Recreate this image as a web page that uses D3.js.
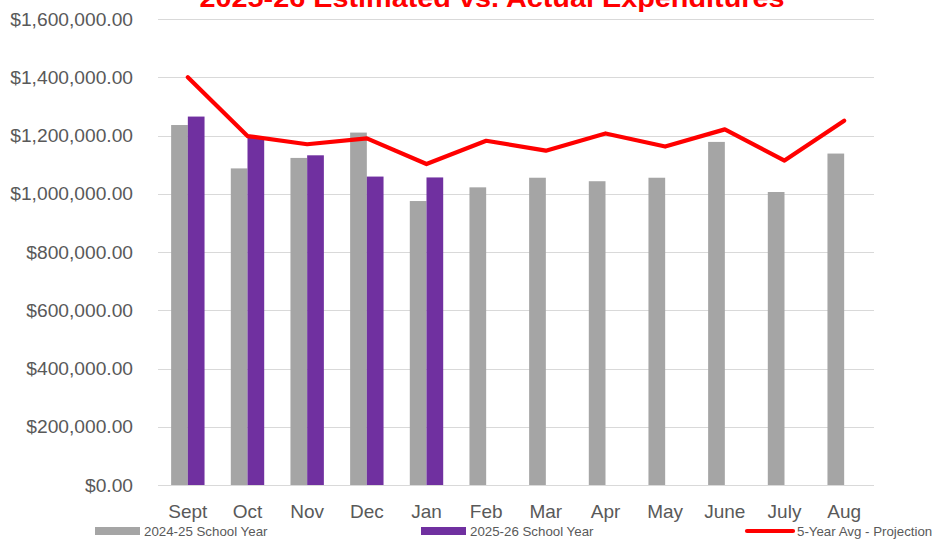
<!DOCTYPE html>
<html><head><meta charset="utf-8">
<script src="https://cdn.jsdelivr.net/npm/d3@7"></script>
<style>body{margin:0;background:#fff}svg{display:block}</style>
</head><body>
<svg id="c" width="939" height="539"></svg>
<script>
const months = ["Sept","Oct","Nov","Dec","Jan","Feb","Mar","Apr","May","June","July","Aug"];
const prevYear = [1236000,1087000,1123000,1210000,975000,1022000,1055000,1043000,1055000,1178000,1006000,1138000];
const currYear = [1265000,1195000,1132000,1059000,1056000,null,null,null,null,null,null,null];
const avgProjection = [1400000,1198000,1170000,1190000,1102000,1182000,1148000,1207000,1162000,1221000,1114000,1251000];
const yTicks = [0,200000,400000,600000,800000,1000000,1200000,1400000,1600000];
const seriesNames = ["2024-25 School Year","2025-26 School Year","5-Year Avg - Projection"];
const title = "2025-26 Estimated vs. Actual Expenditures";

(function(){
const svg = d3.select("#c");
const pL = 158, pR = 874, pT = 19, pB = 485;
const xc = d3.scaleBand().domain(months).range([pL, pR]);
const y = d3.scaleLinear().domain([0,1600000]).range([pB, pT]);
const bw = 16.7;
const fmt = v => "$" + d3.format(",.2f")(v);
const FF = "Liberation Sans, Arial, sans-serif";

// gridlines
svg.append("g").selectAll("line").data(yTicks).join("line")
  .attr("x1", pL).attr("x2", pR)
  .attr("y1", d => Math.round(y(d)) + 0.5).attr("y2", d => Math.round(y(d)) + 0.5)
  .attr("stroke", "#D9D9D9").attr("stroke-width", 1);

// y axis labels
const yAxis = d3.axisLeft(y).tickValues(yTicks).tickFormat(fmt).tickSize(0).tickPadding(0);
const ya = svg.append("g").attr("transform", `translate(133,0)`).call(yAxis);
ya.select(".domain").remove();
ya.selectAll("text").attr("font-family", FF)
  .attr("font-size", 19.2).attr("fill", "#595959");

// bars
const gx = i => xc(months[i]) + (xc.bandwidth() - 2*bw)/2;
svg.append("g").selectAll("rect").data(prevYear).join("rect")
  .attr("x", (d,i) => gx(i)).attr("width", bw)
  .attr("y", d => y(d)).attr("height", d => y(0) - y(d))
  .attr("fill", "#A5A5A5");
svg.append("g").selectAll("rect").data(currYear.map((v,i)=>({v,i})).filter(d => d.v != null)).join("rect")
  .attr("x", d => gx(d.i) + bw).attr("width", bw)
  .attr("y", d => y(d.v)).attr("height", d => y(0) - y(d.v))
  .attr("fill", "#7030A0");

// line
const line = d3.line().x((d,i) => xc(months[i]) + xc.bandwidth()/2).y(d => y(d));
svg.append("path").datum(avgProjection).attr("d", line)
  .attr("fill", "none").attr("stroke", "#FF0000").attr("stroke-width", 4.2)
  .attr("stroke-linejoin", "round").attr("stroke-linecap", "round");

// x axis labels
const xAxis = d3.axisBottom(xc).tickSize(0).tickPadding(0);
const xa = svg.append("g").attr("transform", `translate(0,504)`).call(xAxis);
xa.select(".domain").remove();
xa.selectAll("text").attr("font-family", FF)
  .attr("font-size", 19).attr("fill", "#595959").attr("dy", "0.71em");

// title
svg.append("text").attr("x", 492).attr("y", 7).attr("text-anchor", "middle")
  .attr("font-family", FF).attr("font-weight", "bold")
  .attr("font-size", 26).attr("fill", "#FF0000")
  .attr("textLength", 585).attr("lengthAdjust", "spacingAndGlyphs")
  .text(title);

// legend
const lg = svg.append("g").attr("font-family", FF)
  .attr("font-size", 13.3).attr("fill", "#595959");
lg.append("rect").attr("x", 95).attr("y", 527).attr("width", 45).attr("height", 8).attr("fill", "#A5A5A5");
lg.append("text").attr("x", 144).attr("y", 535.5).text(seriesNames[0]);
lg.append("rect").attr("x", 421).attr("y", 527).attr("width", 45).attr("height", 8).attr("fill", "#7030A0");
lg.append("text").attr("x", 470).attr("y", 535.5).text(seriesNames[1]);
lg.append("line").attr("x1", 747).attr("x2", 793).attr("y1", 531).attr("y2", 531)
  .attr("stroke", "#FF0000").attr("stroke-width", 4.2).attr("stroke-linecap", "round");
lg.append("text").attr("x", 797).attr("y", 535.5).text(seriesNames[2]);
})();
</script>
</body></html>
